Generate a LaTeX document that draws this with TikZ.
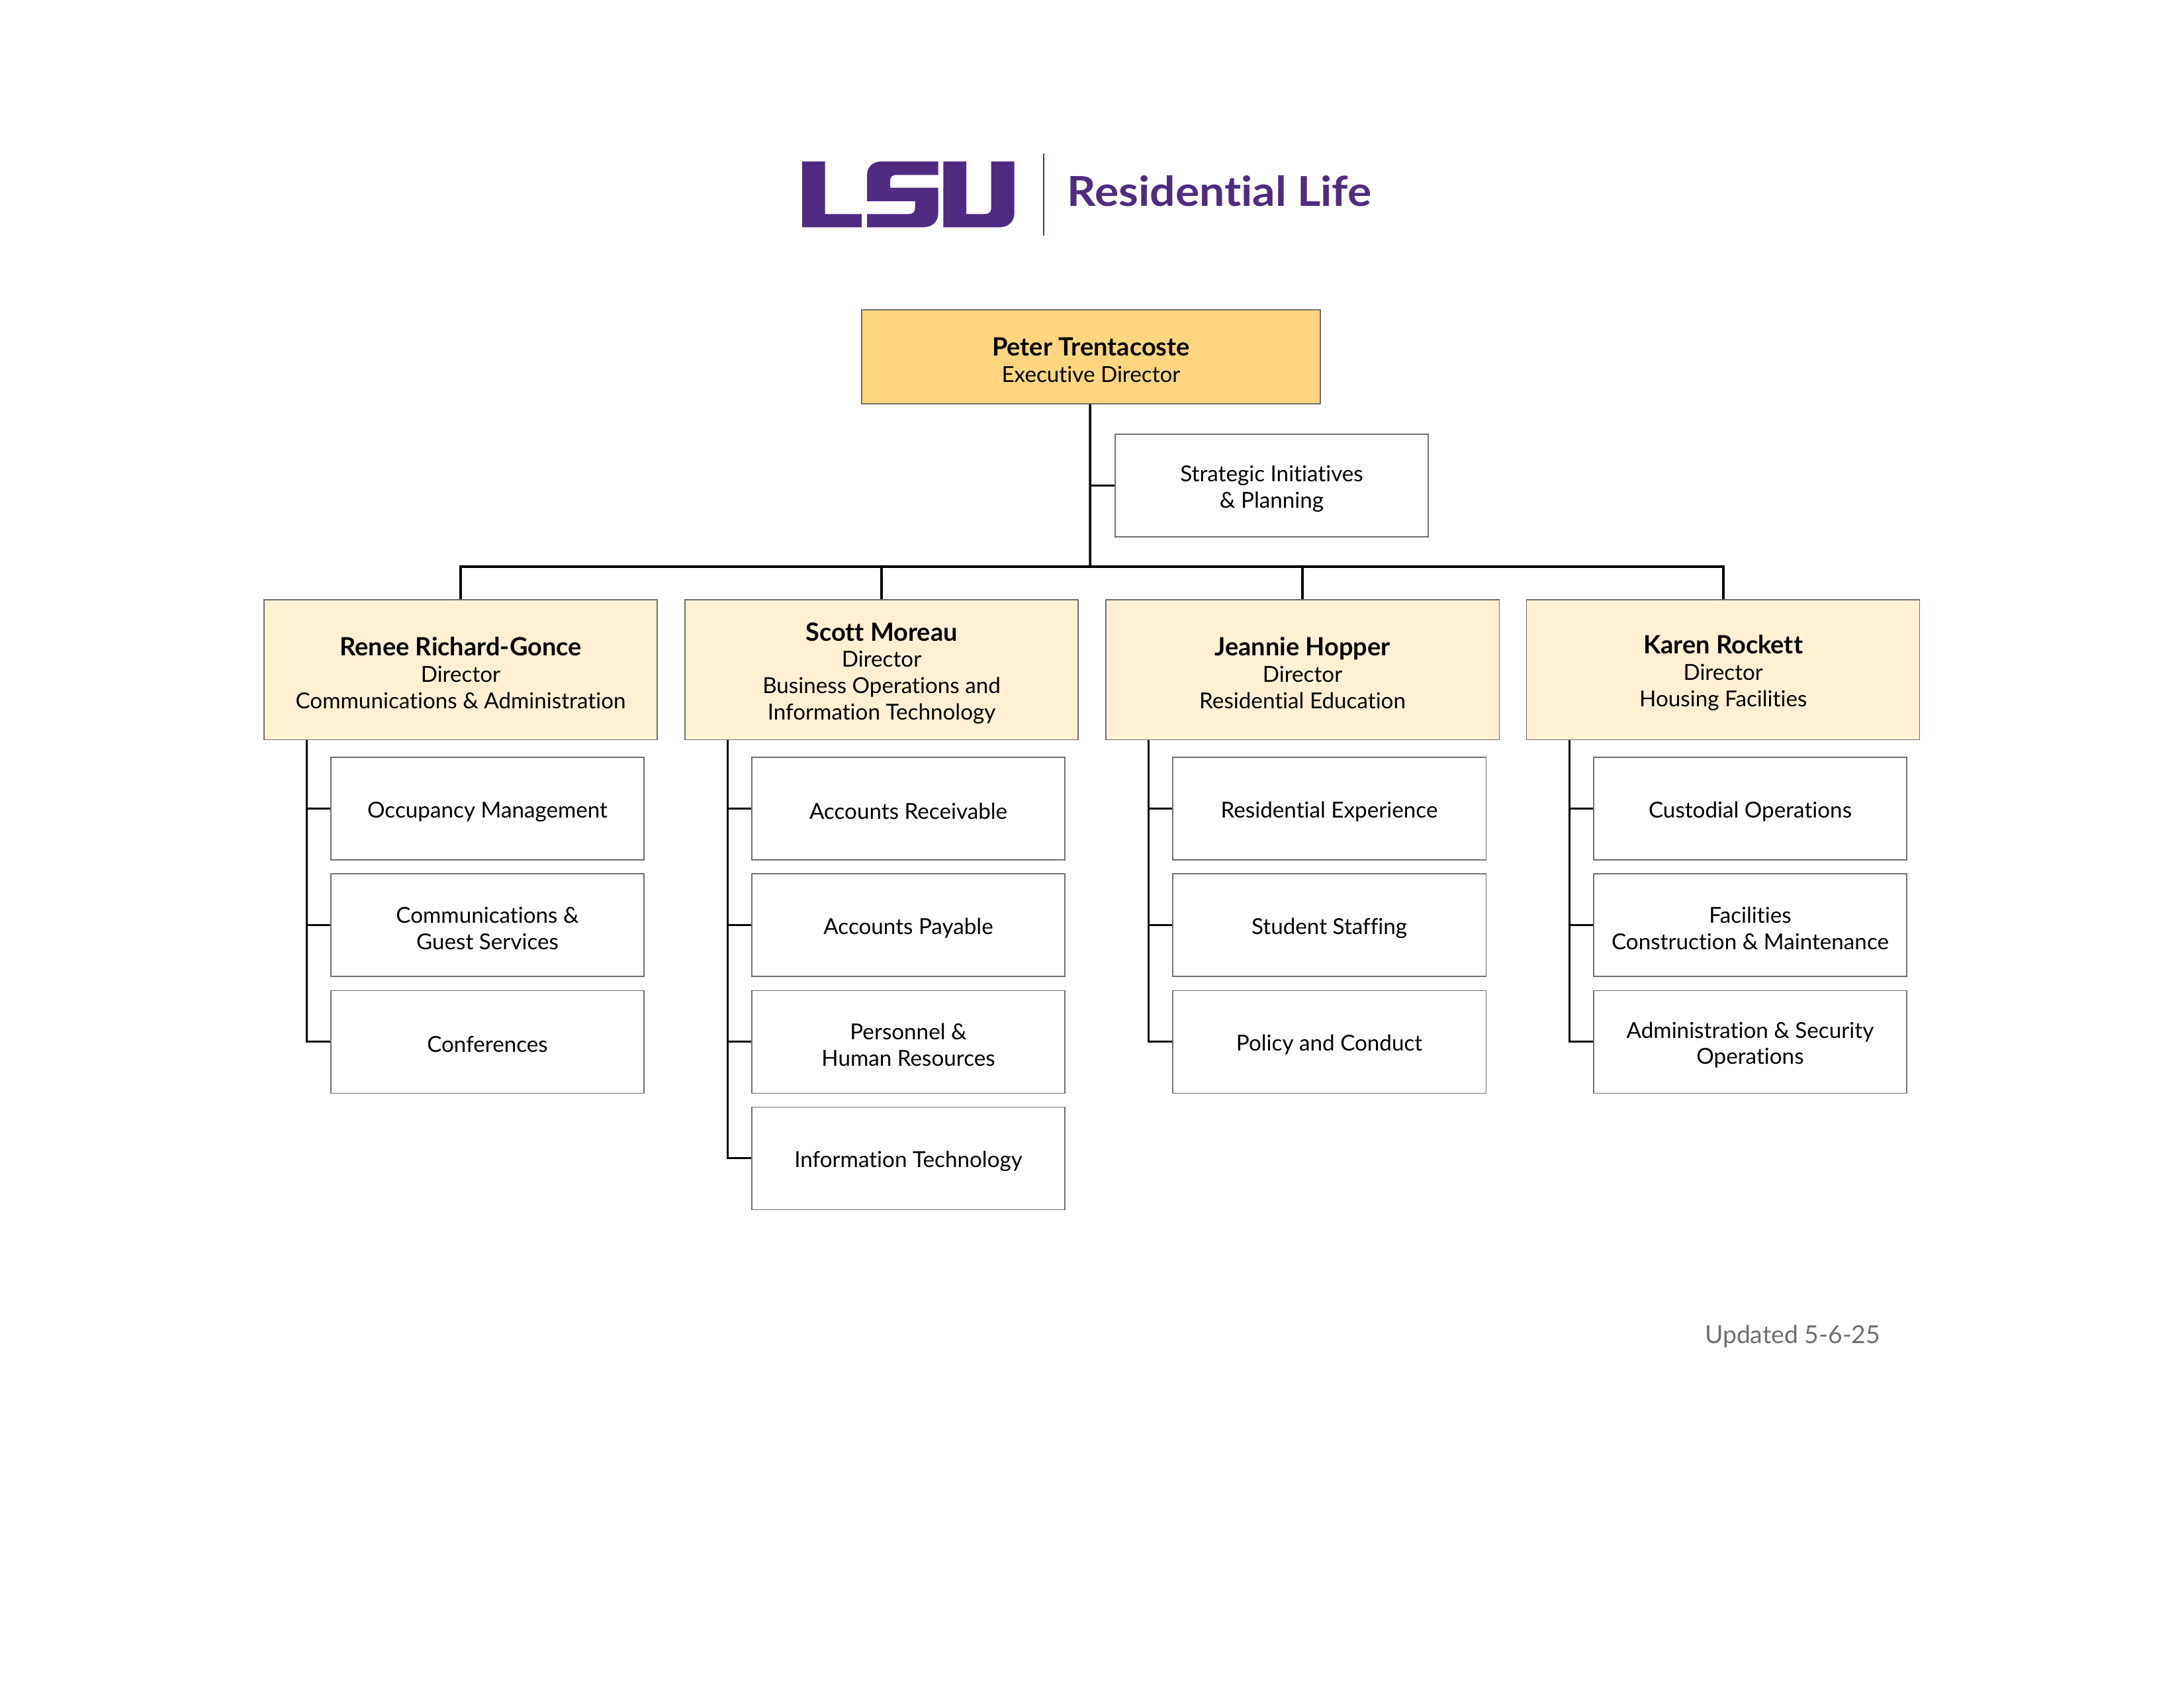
\documentclass[tikz,border=0pt]{standalone}
\usepackage{fontspec}
\setmainfont[Ligatures = NoCommon]{Lato}
\newfontfamily\titlefont[Ligatures = NoCommon, FakeStretch = 1.09]{Lato}
\definecolor{lsupurple}{HTML}{4F2B82}
\definecolor{topfill}{HTML}{FFD67F}
\definecolor{dirfill}{HTML}{FFF0D4}
\definecolor{boxline}{HTML}{707070}
\definecolor{stampgray}{HTML}{6D6E71}
\newcommand{\boxstrut}{\rule[-0.3pt]{0pt}{8.3pt}}
\newcommand{\lift}{\rule{0pt}{8.3pt}}
\newcommand{\who}[1]{\rule{0pt}{9.2pt}{\fontsize{9.15}{9.6}\selectfont\bfseries #1}}
\tikzset{
  orgbox/.style = {rectangle, draw = boxline, line width = 0.3pt, align = center, inner sep = 0pt,
    font = \fontsize{8}{9.6}\selectfont, execute at begin node = \boxstrut, execute at end node = \boxstrut},
  topbox/.style = {orgbox, fill = topfill, minimum width = 5.867cm, minimum height = 1.202cm},
  dirbox/.style = {orgbox, fill = dirfill, minimum width = 5.03cm, minimum height = 1.79cm},
  unitbox/.style = {orgbox, minimum width = 4.005cm, minimum height = 1.312cm},
  orgline/.style = {line width = 0.85pt}
}
\begin{document}
\begin{tikzpicture}

\useasboundingbox (0, 0) rectangle (27.94, 21.59);

%%% Logo
\begin{scope}[shift = {(10.160, 19.685)}, x = 0.002822cm, y = -0.002822cm]
\fill[lsupurple] (36, 57) -- (140, 57) -- (140, 295) -- (306, 295) -- (306, 355) -- (36, 355) -- cycle;
\fill[lsupurple] (395, 57) -- (653, 57) -- (653, 118) -- (460, 118) .. controls (445, 118) and (435, 128) .. (435, 143) -- (435, 176) -- (653, 176) -- (653, 290) .. controls (653, 330) and (625, 355) .. (585, 355) -- (330, 355) -- (330, 295) -- (520, 295) .. controls (537, 295) and (548, 285) .. (548, 270) -- (548, 237) -- (330, 237) -- (330, 122) .. controls (330, 82) and (355, 57) .. (395, 57) -- cycle;
\fill[lsupurple] (676, 57) -- (780, 57) -- (780, 295) -- (865, 295) .. controls (882, 295) and (893, 285) .. (893, 270) -- (893, 57) -- (998, 57) -- (998, 290) .. controls (998, 330) and (970, 355) .. (930, 355) -- (676, 355) -- cycle;
\draw[lsupurple, line width = 0.6pt] (1131, 22) -- (1131, 392);
\end{scope}

\node[anchor = base west, text = lsupurple, font = \fontsize{15}{16}\selectfont\titlefont\bfseries, inner sep = 0pt] (unitname) at (13.648, 18.950) {Residential Life};

%%% Executive
\node[topbox] (peter) at (13.957, 17.027) {\who{Peter Trentacoste}\\Executive Director};

\node[unitbox] (strategic) at (16.269, 15.380) {\lift Strategic Initiatives\\\& Planning};

%%% Directors
\node[dirbox] (renee) at (5.893, 13.024) {\who{Renee Richard-Gonce}\\Director\\Communications \& Administration};

\node[dirbox] (scott) at (11.278, 13.024) {\who{Scott Moreau}\\Director\\Business Operations and\\Information Technology};

\node[dirbox] (jeannie) at (16.663, 13.024) {\who{Jeannie Hopper}\\Director\\Residential Education};

\node[dirbox] (karen) at (22.045, 13.024) {\who{Karen Rockett}\\Director\\Housing Facilities};

%%% Units
\node[unitbox] (occupancy) at (6.236, 11.247) {Occupancy Management};
\node[unitbox] (commguest) at (6.236, 9.757) {\lift Communications \&\\Guest Services};
\node[unitbox] (conferences) at (6.236, 8.266) {Conferences};

\node[unitbox] (receivable) at (11.621, 11.247) {Accounts Receivable};
\node[unitbox] (payable) at (11.621, 9.757) {Accounts Payable};
\node[unitbox] (personnel) at (11.621, 8.266) {\lift Personnel \&\\Human Resources};
\node[unitbox] (infotech) at (11.621, 6.776) {Information Technology};

\node[unitbox] (experience) at (17.006, 11.247) {Residential Experience};
\node[unitbox] (staffing) at (17.006, 9.757) {Student Staffing};
\node[unitbox] (policy) at (17.006, 8.266) {Policy and Conduct};

\node[unitbox] (custodial) at (22.390, 11.247) {Custodial Operations};
\node[unitbox] (facilities) at (22.390, 9.757) {\lift Facilities\\Construction \& Maintenance};
\node[unitbox] (adminsec) at (22.390, 8.266) {\lift Administration \& Security\\Operations};

\node[anchor = base west, text = stampgray, font = \fontsize{9}{11}\selectfont, inner sep = 0pt] (stamp) at (21.804, 4.411) {Updated 5-6-25};

%%% Connectors
\coordinate (bus) at (13.945, 14.343);

\draw[orgline] ([xshift = -0.012cm]peter.south) -- (bus);
\draw[orgline] (strategic.west) -- (strategic.west -| bus);
\draw[orgline] (renee.north) |- (bus) -| (karen.north);
\draw[orgline] (scott.north) -- (scott.north |- bus);
\draw[orgline] (jeannie.north) -- (jeannie.north |- bus);

\draw[orgline] ([xshift = -0.305cm]renee.south -| occupancy.west) |- (conferences.west);
\draw[orgline] (occupancy.west) -- ++(-0.305, 0);
\draw[orgline] (commguest.west) -- ++(-0.305, 0);

\draw[orgline] ([xshift = -0.305cm]scott.south -| receivable.west) |- (infotech.west);
\draw[orgline] (receivable.west) -- ++(-0.305, 0);
\draw[orgline] (payable.west) -- ++(-0.305, 0);
\draw[orgline] (personnel.west) -- ++(-0.305, 0);

\draw[orgline] ([xshift = -0.305cm]jeannie.south -| experience.west) |- (policy.west);
\draw[orgline] (experience.west) -- ++(-0.305, 0);
\draw[orgline] (staffing.west) -- ++(-0.305, 0);

\draw[orgline] ([xshift = -0.305cm]karen.south -| custodial.west) |- (adminsec.west);
\draw[orgline] (custodial.west) -- ++(-0.305, 0);
\draw[orgline] (facilities.west) -- ++(-0.305, 0);

\end{tikzpicture}
\end{document}
